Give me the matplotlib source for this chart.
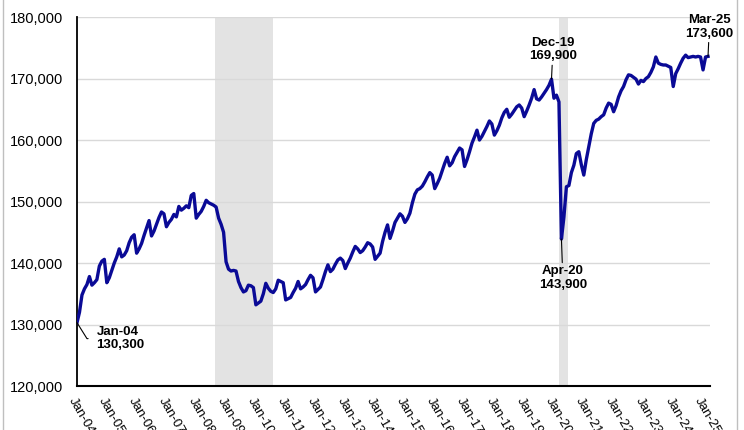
import numpy as np
import matplotlib.pyplot as plt

plt.rcParams['font.family'] = ['Liberation Sans', 'DejaVu Sans']

# monthly values, Jan-04 .. Mar-25
y2004 = [130300, 132000, 134800, 135800, 136500, 137800, 136400, 136800, 137300, 139500, 140300, 140600]
y2005 = [136800, 137600, 138800, 140000, 141000, 142300, 141000, 141300, 142000, 143300, 144200, 144600]
y2006 = [141600, 142300, 143200, 144500, 145700, 146900, 144400, 145200, 146300, 147400, 148300, 148000]
y2007 = [145900, 146600, 147100, 147900, 147500, 149200, 148600, 148900, 149300, 149000, 151000, 151300]
y2008 = [147300, 147900, 148400, 149200, 150200, 149800, 149600, 149400, 149100, 147300, 146300, 145000]
y2009 = [140200, 139000, 138700, 138800, 138700, 137000, 136000, 135300, 135500, 136400, 136300, 136000]
y2010 = [133200, 133500, 133800, 135000, 136700, 135900, 135400, 135200, 135800, 137200, 137000, 136800]
y2011 = [134000, 134200, 134400, 135200, 135900, 137000, 135800, 136100, 136500, 137300, 138000, 137600]
y2012 = [135300, 135700, 136100, 137300, 138600, 139700, 138600, 139000, 139800, 140500, 140800, 140400]
y2013 = [139100, 140000, 140800, 141800, 142700, 142300, 141700, 142000, 142600, 143300, 143100, 142600]
y2014 = [140600, 141100, 141600, 143500, 145000, 146200, 144000, 145200, 146600, 147300, 148000, 147600]
y2015 = [146600, 147200, 148100, 149800, 151200, 151900, 152100, 152500, 153200, 154000, 154700, 154300]
y2016 = [152100, 152900, 153800, 155000, 156200, 157200, 155800, 156300, 157300, 158000, 158700, 158400]
y2017 = [155700, 156800, 158100, 159500, 160500, 161600, 160000, 160600, 161400, 162200, 163100, 162600]
y2018 = [160800, 161500, 162400, 163600, 164500, 165000, 163700, 164200, 164800, 165400, 165700, 165200]
y2019 = [163800, 164700, 165700, 166800, 168200, 166700, 166500, 167000, 167600, 168200, 168900, 169900]
y2020 = [166800, 167300, 166200, 143900, 147500, 152400, 152600, 154700, 155900, 157800, 158100, 156000]
y2021 = [154300, 156800, 158900, 161000, 162700, 163200, 163400, 163800, 164100, 165200, 166000, 165800]
y2022 = [164600, 165600, 167000, 168000, 168700, 169800, 170600, 170500, 170200, 169900, 169100, 169700]
y2023 = [169500, 170000, 170300, 171000, 171900, 173500, 172500, 172300, 172200, 172200, 172000, 171800]
y2024 = [168700, 170800, 171600, 172500, 173300, 173800, 173400, 173500, 173600, 173500, 173600, 173500]
y2025 = [171400, 173500, 173600]

values = (y2004 + y2005 + y2006 + y2007 + y2008 + y2009 + y2010 + y2011 + y2012 + y2013 + y2014
          + y2015 + y2016 + y2017 + y2018 + y2019 + y2020 + y2021 + y2022 + y2023 + y2024 + y2025)
years = list(range(2004, 2026))
tick_labels = ['Jan-%02d' % (y % 100) for y in years]

# shaded periods, in months since Jan-04
shade = [(55.6, 78.9), (194.1, 197.8)]

x = np.arange(len(values))

fig = plt.figure(figsize=(7.44, 4.30), dpi=100)
ax = fig.add_axes([0.1035, 0.1023, 0.8508, 0.8581])

for a, b in shade:
    ax.axvspan(a, b, color='#E3E3E3', lw=0, zorder=0)

ax.plot(x, values, color='#0A0A96', lw=2.4, zorder=3, solid_joinstyle='round')

ax.set_xlim(0, 254.8)
ax.set_ylim(120000, 180000)
ax.set_yticks(np.arange(120000, 180001, 10000))
ax.set_yticklabels(['{:,}'.format(v) for v in range(120000, 180001, 10000)], fontsize=10.5)
ax.set_xticks(np.arange(0, 253, 12))
ax.set_xticklabels(tick_labels, rotation=-60, ha='left', va='top',
                   rotation_mode='anchor', fontsize=9.5)
ax.tick_params(axis='both', length=0)
ax.tick_params(axis='y', pad=10)
ax.tick_params(axis='x', pad=7)
ax.yaxis.grid(True, color='#D9D9D9', lw=1)
ax.set_axisbelow(True)
for s in ['top', 'right']:
    ax.spines[s].set_visible(False)
ax.spines['left'].set_color('black')
ax.spines['bottom'].set_color('black')
ax.spines['left'].set_linewidth(1.3)
ax.spines['bottom'].set_linewidth(1.5)

lp = dict(arrowstyle='-', color='black', lw=0.8, shrinkA=0, shrinkB=0)
ax.annotate('Jan-04\n130,300', xy=(0, values[0]), xytext=(14, -11.5), textcoords='offset points',
            ha='left', va='center', fontsize=9.5, fontweight='bold', linespacing=1.15,
            arrowprops=dict(lp, connectionstyle='angle,angleA=0,angleB=-58', shrinkA=4))
ax.annotate('Dec-19\n169,900', xy=(191, values[191]), xytext=(1, 12), textcoords='offset points',
            ha='center', va='bottom', fontsize=9.5, fontweight='bold', linespacing=1.15,
            arrowprops=lp)
ax.annotate('Apr-20\n143,900', xy=(195, values[195]), xytext=(1, -19), textcoords='offset points',
            ha='center', va='top', fontsize=9.5, fontweight='bold', linespacing=1.15,
            arrowprops=lp)
ax.annotate('Mar-25\n173,600', xy=(254, values[254]), xytext=(1, 12), textcoords='offset points',
            ha='center', va='bottom', fontsize=9.5, fontweight='bold', linespacing=1.15,
            arrowprops=lp, annotation_clip=False)

# outer frame edges
fig.add_artist(plt.Line2D([3 / 744, 3 / 744], [0, 1], color='#BFBFBF', lw=1))
fig.add_artist(plt.Line2D([737 / 744, 737 / 744], [0, 1], color='#BFBFBF', lw=1))

fig.savefig('out.png', dpi=100)
